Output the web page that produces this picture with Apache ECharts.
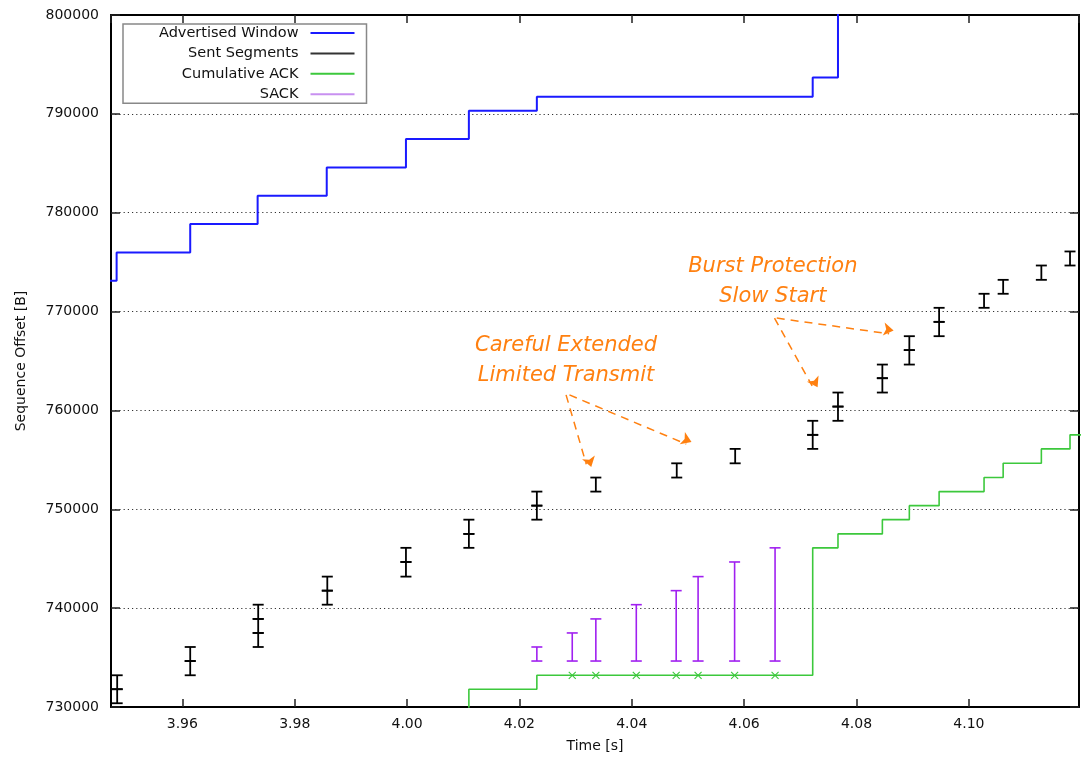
<!DOCTYPE html>
<html>
<head>
<meta charset="utf-8">
<title>Sequence trace</title>
<script src="https://cdn.jsdelivr.net/npm/echarts@6/dist/echarts.min.js"></script>
<style>
  html, body { margin: 0; padding: 0; background: #fff; }
  #chart { width: 1082px; height: 758px; }
</style>
</head>
<body>
<div id="chart"></div>
<script>
// ===== data =====
// advertised window: value holds from each time until the next one
const winTime  = [3.9400, 3.9483, 3.9614, 3.9734, 3.9857, 3.9998, 4.0110, 4.0231, 4.0722, 4.0767, 4.1300];
const winValue = [773110, 775980, 778850, 781710, 784580, 787450, 790320, 791730, 793690, 812000, 812000];

// sent segments, one entry per segment
const sentTime  = [3.9484, 3.9484, 3.9614, 3.9614, 3.9735, 3.9735, 3.9735, 3.9858, 3.9858, 3.9998, 3.9998,
                   4.0110, 4.0110, 4.0231, 4.0231, 4.0336, 4.0480, 4.0584, 4.0722, 4.0722, 4.0767, 4.0767,
                   4.0846, 4.0846, 4.0894, 4.0894, 4.0947, 4.0947, 4.1027, 4.1061, 4.1129, 4.1180];
const sentStart = [730380, 731800, 733210, 734650, 736070, 737490, 738910, 740350, 741770, 743190, 744670,
                   746100, 747510, 748950, 750370, 751790, 753210, 754650, 756110, 757530, 758950, 760390,
                   761810, 763260, 764640, 766100, 767510, 768960, 770380, 771800, 773210, 774660];
const sentEnd   = [731800, 733210, 734650, 736070, 737490, 738910, 740350, 741770, 743190, 744670, 746100,
                   747510, 748950, 750370, 751790, 753210, 754650, 756110, 757530, 758950, 760390, 761810,
                   763260, 764640, 766100, 767510, 768960, 770380, 771800, 773210, 774660, 776080];

// cumulative ack (step), first point is below the visible range
const ackTime  = [3.9900, 4.0110, 4.0231, 4.0722, 4.0767, 4.0846, 4.0894, 4.0947, 4.1027, 4.1061, 4.1129, 4.1180, 4.1300];
const ackValue = [728000, 731800, 733210, 746100, 747510, 748950, 750370, 751790, 753210, 754650, 756110, 757530, 757530];

// duplicate acks (the x marks on the ack line)
const dupAckTime  = [4.0294, 4.0336, 4.0408, 4.0479, 4.0518, 4.0583, 4.0655];
const dupAckValue = [733210, 733210, 733210, 733210, 733210, 733210, 733210];

// SACK blocks
const sackTime  = [4.0231, 4.0294, 4.0336, 4.0408, 4.0479, 4.0518, 4.0583, 4.0655];
const sackStart = [734650, 734650, 734650, 734650, 734650, 734650, 734650, 734650];
const sackEnd   = [736070, 737490, 738910, 740350, 741770, 743190, 744670, 746100];

// annotations
const noteText = ["Careful Extended\nLimited Transmit", "Burst Protection\nSlow Start"];
const noteX = [4.0283, 4.0651];
const noteY = [765040, 773070];
const arrowFromX = [4.0283, 4.0289, 4.0654, 4.0658];
const arrowFromY = [761570, 761570, 769340, 769340];
const arrowToX   = [4.0319, 4.0497, 4.0721, 4.0858];
const arrowToY   = [754560, 756590, 762490, 767750];

// axes
const xMin = 3.9473, xMax = 4.1196, xStep = 0.02;
const yMin = 730000, yMax = 800000, yStep = 10000;

// ===== style =====
const FONT = "DejaVu Sans";
const C_WIN = "#1a1aff";
const C_SENT = "#000000";
const C_ACK = "#3cc83c";
const C_SACK = "#a020f0";
const C_NOTE = "#ff8010";

const chart = echarts.init(document.getElementById("chart"), null, { renderer: "canvas" });

// vertical bar with caps, used for segments and sack blocks
function errorBar(color, capHalf, width) {
    return function (params, api) {
        const x = api.value(0);
        const lo = api.coord([x, api.value(1)]);
        const hi = api.coord([x, api.value(2)]);
        const style = { stroke: color, lineWidth: width };
        return {
            type: "group",
            children: [
                { type: "line", shape: { x1: lo[0], y1: lo[1], x2: hi[0], y2: hi[1] }, style },
                { type: "line", shape: { x1: lo[0] - capHalf, y1: lo[1], x2: lo[0] + capHalf, y2: lo[1] }, style },
                { type: "line", shape: { x1: hi[0] - capHalf, y1: hi[1], x2: hi[0] + capHalf, y2: hi[1] }, style }
            ]
        };
    };
}

function crossMark(color, half) {
    return function (params, api) {
        const p = api.coord([api.value(0), api.value(1)]);
        const style = { stroke: color, lineWidth: 1.1 };
        return {
            type: "group",
            children: [
                { type: "line", shape: { x1: p[0] - half, y1: p[1] - half, x2: p[0] + half, y2: p[1] + half }, style },
                { type: "line", shape: { x1: p[0] - half, y1: p[1] + half, x2: p[0] + half, y2: p[1] - half }, style }
            ]
        };
    };
}

const zip2 = (a, b) => a.map((v, i) => [v, b[i]]);
const zip3 = (a, b, c) => a.map((v, i) => [v, b[i], c[i]]);

const xAxisBase = {
    type: "value",
    min: xMin, max: xMax,
    minInterval: xStep, maxInterval: xStep, splitNumber: 8,
    axisLine: { show: true, onZero: false, lineStyle: { color: "#000", width: 2 } },
    axisTick: { show: true, inside: true, length: 8, lineStyle: { color: "#222", width: 1.5 } },
    splitLine: { show: false }
};
const yAxisBase = {
    type: "value",
    min: yMin, max: yMax, interval: yStep,
    axisLine: { show: true, onZero: false, lineStyle: { color: "#000", width: 2 } },
    axisTick: { show: true, inside: true, length: 9, lineStyle: { color: "#222", width: 1.5 } }
};

chart.setOption({
    animation: false,
    backgroundColor: "#fff",
    textStyle: { fontFamily: FONT },
    grid: { left: 111, right: 3, top: 15, bottom: 51, containLabel: false },
    legend: {
        orient: "vertical",
        left: 123, top: 24,
        align: "right",
        selectedMode: false,
        padding: [1, 12, 1, 36],
        itemGap: 4.4,
        itemWidth: 44, itemHeight: 2,
        backgroundColor: "#fff",
        borderColor: "#888",
        borderWidth: 1.5,
        borderRadius: 0,
        textStyle: { fontFamily: FONT, fontSize: 14.5, color: "#111", lineHeight: 16, padding: [0, 7, 0, 0] },
        data: [
            { name: "Advertised Window", icon: "rect", itemStyle: { color: C_WIN } },
            { name: "Sent Segments", icon: "rect", itemStyle: { color: "#333" } },
            { name: "Cumulative ACK", icon: "rect", itemStyle: { color: C_ACK } },
            { name: "SACK", icon: "rect", itemStyle: { color: "#c890f0" } }
        ]
    },
    xAxis: [
        Object.assign({}, xAxisBase, {
            position: "bottom",
            name: "Time [s]",
            nameLocation: "middle",
            nameGap: 32,
            nameTextStyle: { fontFamily: FONT, fontSize: 14, color: "#111" },
            axisLabel: {
                margin: 10, fontFamily: FONT, fontSize: 14, color: "#111",
                showMinLabel: false, showMaxLabel: false,
                formatter: v => v.toFixed(2)
            }
        }),
        Object.assign({}, xAxisBase, { position: "top", axisLabel: { show: false } })
    ],
    yAxis: [
        Object.assign({}, yAxisBase, {
            position: "left",
            name: "Sequence Offset [B]",
            nameLocation: "middle",
            nameGap: 83,
            nameTextStyle: { fontFamily: FONT, fontSize: 14, color: "#111" },
            axisLabel: { margin: 12, fontFamily: FONT, fontSize: 14, color: "#111", formatter: v => String(v) },
            splitLine: { show: true, lineStyle: { color: "#333", width: 1, type: [1.2, 3] } }
        }),
        Object.assign({}, yAxisBase, { position: "right", axisLabel: { show: false }, splitLine: { show: false } })
    ],
    series: [
        {
            name: "Advertised Window",
            type: "line",
            step: "end",
            data: zip2(winTime, winValue),
            showSymbol: false,
            clip: true,
            lineStyle: { color: C_WIN, width: 2 },
            itemStyle: { color: C_WIN },
            z: 3
        },
        {
            name: "Sent Segments",
            type: "custom",
            renderItem: errorBar(C_SENT, 5.5, 1.8),
            encode: { x: 0, y: [1, 2] },
            data: zip3(sentTime, sentStart, sentEnd),
            itemStyle: { color: "#333" },
            clip: true,
            z: 4
        },
        {
            name: "Cumulative ACK",
            type: "line",
            step: "end",
            data: zip2(ackTime, ackValue),
            showSymbol: false,
            clip: true,
            lineStyle: { color: C_ACK, width: 1.6 },
            itemStyle: { color: C_ACK },
            z: 3,
            markLine: {
                silent: true,
                symbol: ["none", "arrow"],
                symbolSize: 10,
                symbolOffset: [0, -4],
                label: { show: false },
                lineStyle: { color: C_NOTE, width: 1.5, type: [8, 6] },
                itemStyle: { color: C_NOTE },
                data: arrowFromX.map((x, i) => [
                    { coord: [x, arrowFromY[i]] },
                    { coord: [arrowToX[i], arrowToY[i]] }
                ])
            },
            markPoint: {
                silent: true,
                symbol: "circle",
                symbolSize: 0,
                label: {
                    show: true,
                    position: "inside",
                    formatter: p => p.name,
                    fontFamily: FONT,
                    fontStyle: "italic",
                    fontSize: 21,
                    lineHeight: 30,
                    align: "center",
                    verticalAlign: "middle",
                    color: C_NOTE
                },
                data: noteText.map((t, i) => ({ name: t, coord: [noteX[i], noteY[i]] }))
            }
        },
        {
            name: "dup ack",
            type: "custom",
            renderItem: crossMark(C_ACK, 3.5),
            encode: { x: 0, y: 1 },
            data: zip2(dupAckTime, dupAckValue),
            clip: true,
            z: 4
        },
        {
            name: "SACK",
            type: "custom",
            renderItem: errorBar(C_SACK, 5.5, 1.6),
            encode: { x: 0, y: [1, 2] },
            data: zip3(sackTime, sackStart, sackEnd),
            itemStyle: { color: C_SACK },
            clip: true,
            z: 4
        }
    ]
});
</script>
</body>
</html>
